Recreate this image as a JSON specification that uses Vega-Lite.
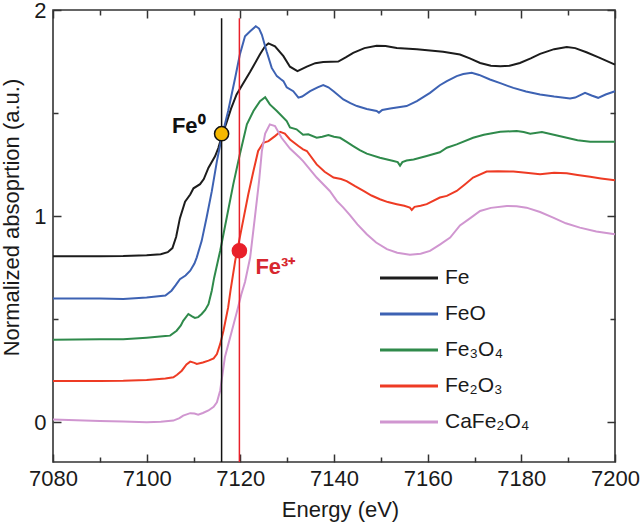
{
  "$schema": "https://vega.github.io/schema/vega-lite/v6.json",
  "width": 562,
  "height": 452,
  "autosize": {"type": "none"},
  "padding": {"left": 53, "top": 10, "right": 25, "bottom": 60},
  "background": "white",
  "config": {
    "font": "Liberation Sans",
    "view": {"stroke": "#333333", "strokeWidth": 1.6},
    "axis": {"domain": false, "grid": false, "tickColor": "#333333", "tickWidth": 1.5, "labelColor": "#1a1a1a", "labelFont": "Liberation Sans", "titleFont": "Liberation Sans", "titleFontWeight": "normal", "titleColor": "#1a1a1a", "labelFlush": false}
  },
  "datasets": {
    "spectra": [
      {"series": "Fe", "energy": 7080, "absorption": 0.805},
      {"series": "Fe", "energy": 7090, "absorption": 0.805},
      {"series": "Fe", "energy": 7095, "absorption": 0.806},
      {"series": "Fe", "energy": 7100, "absorption": 0.81},
      {"series": "Fe", "energy": 7103, "absorption": 0.815},
      {"series": "Fe", "energy": 7104.5, "absorption": 0.825},
      {"series": "Fe", "energy": 7105.5, "absorption": 0.845},
      {"series": "Fe", "energy": 7106.3, "absorption": 0.9},
      {"series": "Fe", "energy": 7107.1, "absorption": 0.99},
      {"series": "Fe", "energy": 7108.2, "absorption": 1.07},
      {"series": "Fe", "energy": 7109.3, "absorption": 1.105},
      {"series": "Fe", "energy": 7110, "absorption": 1.135},
      {"series": "Fe", "energy": 7111.4, "absorption": 1.155},
      {"series": "Fe", "energy": 7112.2, "absorption": 1.18},
      {"series": "Fe", "energy": 7113.2, "absorption": 1.235},
      {"series": "Fe", "energy": 7114.6, "absorption": 1.29},
      {"series": "Fe", "energy": 7115.3, "absorption": 1.33},
      {"series": "Fe", "energy": 7116.2, "absorption": 1.4},
      {"series": "Fe", "energy": 7117, "absorption": 1.45},
      {"series": "Fe", "energy": 7118, "absorption": 1.52},
      {"series": "Fe", "energy": 7119.2, "absorption": 1.59},
      {"series": "Fe", "energy": 7120.5, "absorption": 1.64},
      {"series": "Fe", "energy": 7122.1, "absorption": 1.7},
      {"series": "Fe", "energy": 7124.2, "absorption": 1.785},
      {"series": "Fe", "energy": 7125.3, "absorption": 1.825},
      {"series": "Fe", "energy": 7126, "absorption": 1.838},
      {"series": "Fe", "energy": 7127.4, "absorption": 1.824},
      {"series": "Fe", "energy": 7129.2, "absorption": 1.776},
      {"series": "Fe", "energy": 7130.6, "absorption": 1.725},
      {"series": "Fe", "energy": 7132.2, "absorption": 1.703},
      {"series": "Fe", "energy": 7134.2, "absorption": 1.725},
      {"series": "Fe", "energy": 7136, "absorption": 1.742},
      {"series": "Fe", "energy": 7137.7, "absorption": 1.748},
      {"series": "Fe", "energy": 7140.9, "absorption": 1.75},
      {"series": "Fe", "energy": 7142.5, "absorption": 1.77},
      {"series": "Fe", "energy": 7144.1, "absorption": 1.792},
      {"series": "Fe", "energy": 7146.5, "absorption": 1.815},
      {"series": "Fe", "energy": 7149.1, "absorption": 1.827},
      {"series": "Fe", "energy": 7151, "absorption": 1.825},
      {"series": "Fe", "energy": 7153.4, "absorption": 1.816},
      {"series": "Fe", "energy": 7157.7, "absorption": 1.81},
      {"series": "Fe", "energy": 7160.5, "absorption": 1.804},
      {"series": "Fe", "energy": 7163.3, "absorption": 1.797},
      {"series": "Fe", "energy": 7166.9, "absorption": 1.784},
      {"series": "Fe", "energy": 7169, "absorption": 1.765},
      {"series": "Fe", "energy": 7171.2, "absorption": 1.743},
      {"series": "Fe", "energy": 7173.5, "absorption": 1.73},
      {"series": "Fe", "energy": 7175.5, "absorption": 1.727},
      {"series": "Fe", "energy": 7177.5, "absorption": 1.73},
      {"series": "Fe", "energy": 7179.7, "absorption": 1.743},
      {"series": "Fe", "energy": 7182, "absorption": 1.765},
      {"series": "Fe", "energy": 7184, "absorption": 1.787},
      {"series": "Fe", "energy": 7187, "absorption": 1.81},
      {"series": "Fe", "energy": 7189.7, "absorption": 1.82},
      {"series": "Fe", "energy": 7191.5, "absorption": 1.815},
      {"series": "Fe", "energy": 7193.9, "absorption": 1.795},
      {"series": "Fe", "energy": 7196.5, "absorption": 1.77},
      {"series": "Fe", "energy": 7200, "absorption": 1.735},

      {"series": "FeO", "energy": 7080, "absorption": 0.6},
      {"series": "FeO", "energy": 7090, "absorption": 0.6},
      {"series": "FeO", "energy": 7095, "absorption": 0.598},
      {"series": "FeO", "energy": 7100, "absorption": 0.605},
      {"series": "FeO", "energy": 7104, "absorption": 0.615},
      {"series": "FeO", "energy": 7105.3, "absorption": 0.638},
      {"series": "FeO", "energy": 7106.2, "absorption": 0.665},
      {"series": "FeO", "energy": 7107.1, "absorption": 0.694},
      {"series": "FeO", "energy": 7108.3, "absorption": 0.712},
      {"series": "FeO", "energy": 7109.3, "absorption": 0.735},
      {"series": "FeO", "energy": 7110.2, "absorption": 0.77},
      {"series": "FeO", "energy": 7110.7, "absorption": 0.8},
      {"series": "FeO", "energy": 7111.75, "absorption": 0.88},
      {"series": "FeO", "energy": 7112.8, "absorption": 0.993},
      {"series": "FeO", "energy": 7113.9, "absorption": 1.12},
      {"series": "FeO", "energy": 7115, "absorption": 1.267},
      {"series": "FeO", "energy": 7116, "absorption": 1.38},
      {"series": "FeO", "energy": 7117.4, "absorption": 1.51},
      {"series": "FeO", "energy": 7118.9, "absorption": 1.671},
      {"series": "FeO", "energy": 7119.9, "absorption": 1.784},
      {"series": "FeO", "energy": 7121, "absorption": 1.873},
      {"series": "FeO", "energy": 7122.1, "absorption": 1.897},
      {"series": "FeO", "energy": 7123.3, "absorption": 1.921},
      {"series": "FeO", "energy": 7124, "absorption": 1.91},
      {"series": "FeO", "energy": 7124.6, "absorption": 1.88},
      {"series": "FeO", "energy": 7125.6, "absorption": 1.8},
      {"series": "FeO", "energy": 7126.7, "absorption": 1.719},
      {"series": "FeO", "energy": 7127.8, "absorption": 1.679},
      {"series": "FeO", "energy": 7128.6, "absorption": 1.665},
      {"series": "FeO", "energy": 7129.2, "absorption": 1.655},
      {"series": "FeO", "energy": 7129.9, "absorption": 1.625},
      {"series": "FeO", "energy": 7131.3, "absorption": 1.606},
      {"series": "FeO", "energy": 7132.4, "absorption": 1.575},
      {"series": "FeO", "energy": 7133.2, "absorption": 1.58},
      {"series": "FeO", "energy": 7134.9, "absorption": 1.606},
      {"series": "FeO", "energy": 7136.5, "absorption": 1.625},
      {"series": "FeO", "energy": 7137.7, "absorption": 1.636},
      {"series": "FeO", "energy": 7138.8, "absorption": 1.625},
      {"series": "FeO", "energy": 7139.9, "absorption": 1.606},
      {"series": "FeO", "energy": 7142, "absorption": 1.566},
      {"series": "FeO", "energy": 7143.5, "absorption": 1.548},
      {"series": "FeO", "energy": 7144.9, "absorption": 1.534},
      {"series": "FeO", "energy": 7147, "absorption": 1.52},
      {"series": "FeO", "energy": 7149.1, "absorption": 1.51},
      {"series": "FeO", "energy": 7149.6, "absorption": 1.502},
      {"series": "FeO", "energy": 7150.3, "absorption": 1.515},
      {"series": "FeO", "energy": 7152, "absorption": 1.522},
      {"series": "FeO", "energy": 7155.5, "absorption": 1.534},
      {"series": "FeO", "energy": 7157.7, "absorption": 1.558},
      {"series": "FeO", "energy": 7160.5, "absorption": 1.598},
      {"series": "FeO", "energy": 7162.6, "absorption": 1.635},
      {"series": "FeO", "energy": 7164.1, "absorption": 1.655},
      {"series": "FeO", "energy": 7166.2, "absorption": 1.679},
      {"series": "FeO", "energy": 7167.6, "absorption": 1.689},
      {"series": "FeO", "energy": 7169.4, "absorption": 1.695},
      {"series": "FeO", "energy": 7171, "absorption": 1.685},
      {"series": "FeO", "energy": 7173.3, "absorption": 1.663},
      {"series": "FeO", "energy": 7175.5, "absorption": 1.645},
      {"series": "FeO", "energy": 7178.3, "absorption": 1.622},
      {"series": "FeO", "energy": 7181, "absorption": 1.605},
      {"series": "FeO", "energy": 7184, "absorption": 1.59},
      {"series": "FeO", "energy": 7187, "absorption": 1.58},
      {"series": "FeO", "energy": 7190.4, "absorption": 1.571},
      {"series": "FeO", "energy": 7191.5, "absorption": 1.575},
      {"series": "FeO", "energy": 7193.6, "absorption": 1.598},
      {"series": "FeO", "energy": 7195, "absorption": 1.585},
      {"series": "FeO", "energy": 7196.4, "absorption": 1.574},
      {"series": "FeO", "energy": 7198, "absorption": 1.59},
      {"series": "FeO", "energy": 7200, "absorption": 1.606},

      {"series": "Fe₃O₄", "energy": 7080, "absorption": 0.4},
      {"series": "Fe₃O₄", "energy": 7090, "absorption": 0.402},
      {"series": "Fe₃O₄", "energy": 7095, "absorption": 0.402},
      {"series": "Fe₃O₄", "energy": 7100, "absorption": 0.41},
      {"series": "Fe₃O₄", "energy": 7104, "absorption": 0.418},
      {"series": "Fe₃O₄", "energy": 7105, "absorption": 0.42},
      {"series": "Fe₃O₄", "energy": 7106.4, "absorption": 0.444},
      {"series": "Fe₃O₄", "energy": 7107.3, "absorption": 0.47},
      {"series": "Fe₃O₄", "energy": 7107.8, "absorption": 0.492},
      {"series": "Fe₃O₄", "energy": 7108.9, "absorption": 0.525},
      {"series": "Fe₃O₄", "energy": 7109.6, "absorption": 0.515},
      {"series": "Fe₃O₄", "energy": 7110.3, "absorption": 0.506},
      {"series": "Fe₃O₄", "energy": 7111, "absorption": 0.51},
      {"series": "Fe₃O₄", "energy": 7111.75, "absorption": 0.525},
      {"series": "Fe₃O₄", "energy": 7112.5, "absorption": 0.545},
      {"series": "Fe₃O₄", "energy": 7113.2, "absorption": 0.573},
      {"series": "Fe₃O₄", "energy": 7113.9, "absorption": 0.638},
      {"series": "Fe₃O₄", "energy": 7114.4, "absorption": 0.7},
      {"series": "Fe₃O₄", "energy": 7115.7, "absorption": 0.832},
      {"series": "Fe₃O₄", "energy": 7117.1, "absorption": 0.993},
      {"series": "Fe₃O₄", "energy": 7118.5, "absorption": 1.155},
      {"series": "Fe₃O₄", "energy": 7119.9, "absorption": 1.3},
      {"series": "Fe₃O₄", "energy": 7121.4, "absorption": 1.445},
      {"series": "Fe₃O₄", "energy": 7122.8, "absorption": 1.51},
      {"series": "Fe₃O₄", "energy": 7124.2, "absorption": 1.558},
      {"series": "Fe₃O₄", "energy": 7125.3, "absorption": 1.577},
      {"series": "Fe₃O₄", "energy": 7126.3, "absorption": 1.542},
      {"series": "Fe₃O₄", "energy": 7127.8, "absorption": 1.51},
      {"series": "Fe₃O₄", "energy": 7129.9, "absorption": 1.461},
      {"series": "Fe₃O₄", "energy": 7130.6, "absorption": 1.43},
      {"series": "Fe₃O₄", "energy": 7132, "absorption": 1.421},
      {"series": "Fe₃O₄", "energy": 7133.4, "absorption": 1.395},
      {"series": "Fe₃O₄", "energy": 7134.5, "absorption": 1.397},
      {"series": "Fe₃O₄", "energy": 7136.3, "absorption": 1.38},
      {"series": "Fe₃O₄", "energy": 7137.5, "absorption": 1.385},
      {"series": "Fe₃O₄", "energy": 7138.8, "absorption": 1.393},
      {"series": "Fe₃O₄", "energy": 7140, "absorption": 1.385},
      {"series": "Fe₃O₄", "energy": 7141.3, "absorption": 1.38},
      {"series": "Fe₃O₄", "energy": 7142.7, "absorption": 1.36},
      {"series": "Fe₃O₄", "energy": 7144.1, "absorption": 1.34},
      {"series": "Fe₃O₄", "energy": 7145.5, "absorption": 1.32},
      {"series": "Fe₃O₄", "energy": 7147, "absorption": 1.303},
      {"series": "Fe₃O₄", "energy": 7149.8, "absorption": 1.283},
      {"series": "Fe₃O₄", "energy": 7152.7, "absorption": 1.267},
      {"series": "Fe₃O₄", "energy": 7153.6, "absorption": 1.262},
      {"series": "Fe₃O₄", "energy": 7154.1, "absorption": 1.245},
      {"series": "Fe₃O₄", "energy": 7154.6, "absorption": 1.262},
      {"series": "Fe₃O₄", "energy": 7155.5, "absorption": 1.27},
      {"series": "Fe₃O₄", "energy": 7157, "absorption": 1.275},
      {"series": "Fe₃O₄", "energy": 7159.8, "absorption": 1.292},
      {"series": "Fe₃O₄", "energy": 7162.6, "absorption": 1.31},
      {"series": "Fe₃O₄", "energy": 7164.1, "absorption": 1.332},
      {"series": "Fe₃O₄", "energy": 7166.2, "absorption": 1.348},
      {"series": "Fe₃O₄", "energy": 7169.7, "absorption": 1.38},
      {"series": "Fe₃O₄", "energy": 7172, "absorption": 1.395},
      {"series": "Fe₃O₄", "energy": 7175.5, "absorption": 1.409},
      {"series": "Fe₃O₄", "energy": 7179, "absorption": 1.413},
      {"series": "Fe₃O₄", "energy": 7180.5, "absorption": 1.408},
      {"series": "Fe₃O₄", "energy": 7181.9, "absorption": 1.4},
      {"series": "Fe₃O₄", "energy": 7184.4, "absorption": 1.408},
      {"series": "Fe₃O₄", "energy": 7186, "absorption": 1.4},
      {"series": "Fe₃O₄", "energy": 7189.7, "absorption": 1.38},
      {"series": "Fe₃O₄", "energy": 7192, "absorption": 1.368},
      {"series": "Fe₃O₄", "energy": 7194.7, "absorption": 1.361},
      {"series": "Fe₃O₄", "energy": 7200, "absorption": 1.361},

      {"series": "Fe₂O₃", "energy": 7080, "absorption": 0.2},
      {"series": "Fe₂O₃", "energy": 7090, "absorption": 0.2},
      {"series": "Fe₂O₃", "energy": 7095, "absorption": 0.201},
      {"series": "Fe₂O₃", "energy": 7100, "absorption": 0.205},
      {"series": "Fe₂O₃", "energy": 7104, "absorption": 0.212},
      {"series": "Fe₂O₃", "energy": 7105.7, "absorption": 0.218},
      {"series": "Fe₂O₃", "energy": 7106.5, "absorption": 0.23},
      {"series": "Fe₂O₃", "energy": 7107.5, "absorption": 0.25},
      {"series": "Fe₂O₃", "energy": 7108.5, "absorption": 0.28},
      {"series": "Fe₂O₃", "energy": 7109.3, "absorption": 0.294},
      {"series": "Fe₂O₃", "energy": 7110.2, "absorption": 0.288},
      {"series": "Fe₂O₃", "energy": 7110.7, "absorption": 0.283},
      {"series": "Fe₂O₃", "energy": 7112, "absorption": 0.29},
      {"series": "Fe₂O₃", "energy": 7113.2, "absorption": 0.299},
      {"series": "Fe₂O₃", "energy": 7114.3, "absorption": 0.31},
      {"series": "Fe₂O₃", "energy": 7115, "absorption": 0.331},
      {"series": "Fe₂O₃", "energy": 7115.7, "absorption": 0.38},
      {"series": "Fe₂O₃", "energy": 7116.4, "absorption": 0.444},
      {"series": "Fe₂O₃", "energy": 7117.4, "absorption": 0.557},
      {"series": "Fe₂O₃", "energy": 7117.9, "absorption": 0.638},
      {"series": "Fe₂O₃", "energy": 7118.9, "absorption": 0.783},
      {"series": "Fe₂O₃", "energy": 7120.3, "absorption": 0.944},
      {"series": "Fe₂O₃", "energy": 7121.7, "absorption": 1.106},
      {"series": "Fe₂O₃", "energy": 7122.8, "absorption": 1.219},
      {"series": "Fe₂O₃", "energy": 7123.8, "absorption": 1.316},
      {"series": "Fe₂O₃", "energy": 7124.9, "absorption": 1.356},
      {"series": "Fe₂O₃", "energy": 7126, "absorption": 1.364},
      {"series": "Fe₂O₃", "energy": 7127.4, "absorption": 1.388},
      {"series": "Fe₂O₃", "energy": 7128.5, "absorption": 1.409},
      {"series": "Fe₂O₃", "energy": 7129.5, "absorption": 1.4},
      {"series": "Fe₂O₃", "energy": 7130.6, "absorption": 1.372},
      {"series": "Fe₂O₃", "energy": 7132.4, "absorption": 1.34},
      {"series": "Fe₂O₃", "energy": 7133.4, "absorption": 1.324},
      {"series": "Fe₂O₃", "energy": 7134.2, "absorption": 1.316},
      {"series": "Fe₂O₃", "energy": 7136.3, "absorption": 1.251},
      {"series": "Fe₂O₃", "energy": 7138, "absorption": 1.215},
      {"series": "Fe₂O₃", "energy": 7139.9, "absorption": 1.187},
      {"series": "Fe₂O₃", "energy": 7141.5, "absorption": 1.18},
      {"series": "Fe₂O₃", "energy": 7142.7, "absorption": 1.17},
      {"series": "Fe₂O₃", "energy": 7144.5, "absorption": 1.145},
      {"series": "Fe₂O₃", "energy": 7146.3, "absorption": 1.122},
      {"series": "Fe₂O₃", "energy": 7148, "absorption": 1.1},
      {"series": "Fe₂O₃", "energy": 7149.8, "absorption": 1.082},
      {"series": "Fe₂O₃", "energy": 7151.5, "absorption": 1.068},
      {"series": "Fe₂O₃", "energy": 7153.4, "absorption": 1.058},
      {"series": "Fe₂O₃", "energy": 7155, "absorption": 1.05},
      {"series": "Fe₂O₃", "energy": 7156.2, "absorption": 1.041},
      {"series": "Fe₂O₃", "energy": 7156.6, "absorption": 1.03},
      {"series": "Fe₂O₃", "energy": 7157.2, "absorption": 1.045},
      {"series": "Fe₂O₃", "energy": 7158.5, "absorption": 1.05},
      {"series": "Fe₂O₃", "energy": 7159.8, "absorption": 1.058},
      {"series": "Fe₂O₃", "energy": 7162.6, "absorption": 1.09},
      {"series": "Fe₂O₃", "energy": 7164.1, "absorption": 1.098},
      {"series": "Fe₂O₃", "energy": 7166.2, "absorption": 1.122},
      {"series": "Fe₂O₃", "energy": 7168, "absorption": 1.155},
      {"series": "Fe₂O₃", "energy": 7169.7, "absorption": 1.187},
      {"series": "Fe₂O₃", "energy": 7172.6, "absorption": 1.216},
      {"series": "Fe₂O₃", "energy": 7175, "absorption": 1.218},
      {"series": "Fe₂O₃", "energy": 7178.3, "absorption": 1.216},
      {"series": "Fe₂O₃", "energy": 7181, "absorption": 1.21},
      {"series": "Fe₂O₃", "energy": 7184, "absorption": 1.203},
      {"series": "Fe₂O₃", "energy": 7187, "absorption": 1.21},
      {"series": "Fe₂O₃", "energy": 7189.7, "absorption": 1.208},
      {"series": "Fe₂O₃", "energy": 7192, "absorption": 1.2},
      {"series": "Fe₂O₃", "energy": 7194.7, "absorption": 1.191},
      {"series": "Fe₂O₃", "energy": 7197, "absorption": 1.183},
      {"series": "Fe₂O₃", "energy": 7200, "absorption": 1.174},

      {"series": "CaFe₂O₄", "energy": 7080, "absorption": 0.013},
      {"series": "CaFe₂O₄", "energy": 7085, "absorption": 0.01},
      {"series": "CaFe₂O₄", "energy": 7090, "absorption": 0.006},
      {"series": "CaFe₂O₄", "energy": 7095, "absorption": 0.003},
      {"series": "CaFe₂O₄", "energy": 7100, "absorption": 0.0},
      {"series": "CaFe₂O₄", "energy": 7103, "absorption": 0.002},
      {"series": "CaFe₂O₄", "energy": 7105.7, "absorption": 0.008},
      {"series": "CaFe₂O₄", "energy": 7107, "absorption": 0.02},
      {"series": "CaFe₂O₄", "energy": 7107.8, "absorption": 0.032},
      {"series": "CaFe₂O₄", "energy": 7109.3, "absorption": 0.044},
      {"series": "CaFe₂O₄", "energy": 7110.2, "absorption": 0.042},
      {"series": "CaFe₂O₄", "energy": 7111, "absorption": 0.037},
      {"series": "CaFe₂O₄", "energy": 7112, "absorption": 0.045},
      {"series": "CaFe₂O₄", "energy": 7113.2, "absorption": 0.057},
      {"series": "CaFe₂O₄", "energy": 7114.3, "absorption": 0.075},
      {"series": "CaFe₂O₄", "energy": 7115, "absorption": 0.097},
      {"series": "CaFe₂O₄", "energy": 7115.7, "absorption": 0.154},
      {"series": "CaFe₂O₄", "energy": 7116.7, "absorption": 0.315},
      {"series": "CaFe₂O₄", "energy": 7118.2, "absorption": 0.444},
      {"series": "CaFe₂O₄", "energy": 7119.2, "absorption": 0.53},
      {"series": "CaFe₂O₄", "energy": 7120.2, "absorption": 0.62},
      {"series": "CaFe₂O₄", "energy": 7121, "absorption": 0.68},
      {"series": "CaFe₂O₄", "energy": 7122.1, "absorption": 0.8},
      {"series": "CaFe₂O₄", "energy": 7123.1, "absorption": 0.993},
      {"series": "CaFe₂O₄", "energy": 7124, "absorption": 1.17},
      {"series": "CaFe₂O₄", "energy": 7124.6, "absorption": 1.316},
      {"series": "CaFe₂O₄", "energy": 7125.3, "absorption": 1.4},
      {"series": "CaFe₂O₄", "energy": 7126.3, "absorption": 1.445},
      {"series": "CaFe₂O₄", "energy": 7127.4, "absorption": 1.437},
      {"series": "CaFe₂O₄", "energy": 7128.8, "absorption": 1.38},
      {"series": "CaFe₂O₄", "energy": 7130.6, "absorption": 1.328},
      {"series": "CaFe₂O₄", "energy": 7132.7, "absorption": 1.283},
      {"series": "CaFe₂O₄", "energy": 7133.4, "absorption": 1.267},
      {"series": "CaFe₂O₄", "energy": 7136.3, "absorption": 1.187},
      {"series": "CaFe₂O₄", "energy": 7139.1, "absorption": 1.122},
      {"series": "CaFe₂O₄", "energy": 7140.6, "absorption": 1.074},
      {"series": "CaFe₂O₄", "energy": 7142, "absorption": 1.041},
      {"series": "CaFe₂O₄", "energy": 7143.4, "absorption": 1.005},
      {"series": "CaFe₂O₄", "energy": 7145, "absorption": 0.96},
      {"series": "CaFe₂O₄", "energy": 7147, "absorption": 0.912},
      {"series": "CaFe₂O₄", "energy": 7149, "absorption": 0.872},
      {"series": "CaFe₂O₄", "energy": 7151.3, "absorption": 0.84},
      {"series": "CaFe₂O₄", "energy": 7153.5, "absorption": 0.822},
      {"series": "CaFe₂O₄", "energy": 7156.2, "absorption": 0.812},
      {"series": "CaFe₂O₄", "energy": 7158.5, "absorption": 0.817},
      {"series": "CaFe₂O₄", "energy": 7160.5, "absorption": 0.831},
      {"series": "CaFe₂O₄", "energy": 7162.6, "absorption": 0.862},
      {"series": "CaFe₂O₄", "energy": 7164.8, "absorption": 0.896},
      {"series": "CaFe₂O₄", "energy": 7166.9, "absorption": 0.955},
      {"series": "CaFe₂O₄", "energy": 7169.1, "absorption": 0.99},
      {"series": "CaFe₂O₄", "energy": 7171.2, "absorption": 1.025},
      {"series": "CaFe₂O₄", "energy": 7173.5, "absorption": 1.04},
      {"series": "CaFe₂O₄", "energy": 7176.9, "absorption": 1.049},
      {"series": "CaFe₂O₄", "energy": 7179, "absorption": 1.048},
      {"series": "CaFe₂O₄", "energy": 7181.1, "absorption": 1.041},
      {"series": "CaFe₂O₄", "energy": 7184, "absorption": 1.02},
      {"series": "CaFe₂O₄", "energy": 7186.8, "absorption": 0.993},
      {"series": "CaFe₂O₄", "energy": 7189.5, "absorption": 0.965},
      {"series": "CaFe₂O₄", "energy": 7192.5, "absorption": 0.944},
      {"series": "CaFe₂O₄", "energy": 7196, "absorption": 0.925},
      {"series": "CaFe₂O₄", "energy": 7200, "absorption": 0.912}
    ],
    "markers": [
      {"state": "Fe0", "label": "Fe⁰", "energy": 7116, "absorption": 1.4},
      {"state": "Fe3+", "label": "Fe³⁺", "energy": 7119.8, "absorption": 0.832}
    ]
  },
  "layer": [
    {
      "data": {"name": "spectra"},
      "mark": {"type": "line", "strokeWidth": 2, "interpolate": "linear"},
      "encoding": {
        "x": {"field": "energy", "type": "quantitative", "scale": {"domain": [7080, 7200], "nice": false, "zero": false},
              "axis": {"orient": "bottom", "values": [7080, 7100, 7120, 7140, 7160, 7180, 7200], "tickSize": -8, "labelPadding": 14, "labelFontSize": 22, "format": "d", "title": "Energy (eV)", "titleFontSize": 22, "titleX": 287, "titleY": 54, "titleBaseline": "alphabetic"}},
        "y": {"field": "absorption", "type": "quantitative", "scale": {"domain": [-0.193, 2.0], "nice": false, "zero": false},
              "axis": {"orient": "left", "values": [0, 1, 2], "tickSize": -8, "labelPadding": 15, "labelFontSize": 22, "title": "Normalized absoprtion (a.u.)", "titleFontSize": 22, "titleY": 207, "titleX": -35, "titleBaseline": "alphabetic"}},
        "color": {"field": "series", "type": "nominal",
                  "scale": {"domain": ["Fe", "FeO", "Fe₃O₄", "Fe₂O₃", "CaFe₂O₄"], "range": ["#1c1c1c", "#3d62b3", "#2f8a4b", "#ee3b24", "#d096d0"]},
                  "legend": {"orient": "none", "legendX": 340, "legendY": 252, "title": null, "symbolType": "M-2,0H2", "symbolSize": 841, "symbolStrokeWidth": 3, "symbolFillColor": "transparent", "labelFontSize": 21, "labelFont": "Liberation Sans", "labelColor": "#1a1a1a", "labelOffset": 20, "rowPadding": 10, "padding": 0}}
      }
    },
    {
      "data": {"name": "markers"},
      "mark": {"type": "rule", "strokeWidth": 1.5},
      "encoding": {
        "x": {"field": "energy", "type": "quantitative", "axis": null},
        "y": {"datum": 1.96, "axis": null},
        "y2": {"datum": -0.193},
        "color": {"condition": {"test": "datum.state === 'Fe3+'", "value": "#e8202a"}, "value": "#111111"}
      }
    },
    {
      "data": {"name": "markers"},
      "mark": {"type": "point", "filled": true, "size": 200, "opacity": 1, "strokeWidth": 1.5},
      "encoding": {
        "x": {"field": "energy", "type": "quantitative",
              "axis": {"orient": "top", "values": [7080, 7100, 7120, 7140, 7160, 7180, 7200], "tickSize": -8, "labels": false, "title": null}},
        "y": {"field": "absorption", "type": "quantitative",
              "axis": {"orient": "right", "values": [0, 1, 2], "tickSize": -8, "labels": false, "title": null}},
        "fill": {"condition": {"test": "datum.state === 'Fe3+'", "value": "#e8202a"}, "value": "#f5b800"},
        "stroke": {"condition": {"test": "datum.state === 'Fe3+'", "value": "#e8202a"}, "value": "#111111"}
      }
    },
    {
      "data": {"name": "markers"},
      "transform": [{"filter": "datum.state === 'Fe0'"}],
      "mark": {"type": "text", "fontSize": 22, "fontWeight": "bold", "align": "right", "baseline": "alphabetic", "dx": -16, "dy": -1, "color": "#111111", "font": "Liberation Sans"},
      "encoding": {
        "x": {"field": "energy", "type": "quantitative",
              "axis": {"orient": "bottom", "values": [7090, 7110, 7130, 7150, 7170, 7190], "tickSize": -5, "labels": false, "title": null}},
        "y": {"field": "absorption", "type": "quantitative",
              "axis": {"orient": "left", "values": [0.5, 1.5], "tickSize": -5, "labels": false, "title": null}},
        "text": {"field": "label"}
      }
    },
    {
      "data": {"name": "markers"},
      "transform": [{"filter": "datum.state === 'Fe3+'"}],
      "mark": {"type": "text", "fontSize": 22, "fontWeight": "bold", "align": "left", "baseline": "alphabetic", "dx": 16, "dy": 23, "color": "#d7282f", "font": "Liberation Sans"},
      "encoding": {
        "x": {"field": "energy", "type": "quantitative",
              "axis": {"orient": "top", "values": [7090, 7110, 7130, 7150, 7170, 7190], "tickSize": -5, "labels": false, "title": null}},
        "y": {"field": "absorption", "type": "quantitative",
              "axis": {"orient": "right", "values": [0.5, 1.5], "tickSize": -5, "labels": false, "title": null}},
        "text": {"field": "label"}
      }
    }
  ],
  "resolve": {"axis": {"x": "independent", "y": "independent"}}
}
